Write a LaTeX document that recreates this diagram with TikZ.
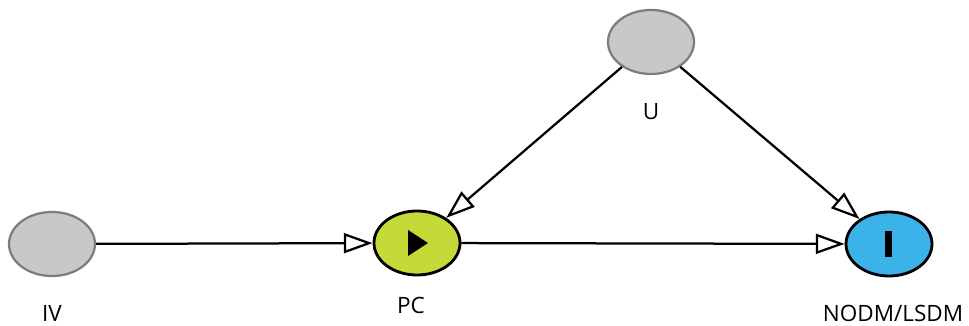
\documentclass[tikz,border=0pt]{standalone}
\usepackage{fontspec}
\setmainfont{Open Sans}
\usetikzlibrary{shapes.geometric,arrows.meta}
\definecolor{vargray}{RGB}{200,200,200}
\definecolor{varedge}{RGB}{125,125,125}
\definecolor{pcgreen}{RGB}{197,217,56}
\definecolor{outblue}{RGB}{59,179,232}
\tikzset{
  var/.style={ellipse,draw=varedge,fill=vargray,line width=1.6pt,minimum width=2.15cm,minimum height=1.6cm,inner sep=0pt},
  main/.style={var,draw=black,line width=2pt},
  lab/.style={font=\fontsize{16}{18}\selectfont,inner sep=0pt},
}
\begin{document}
\begin{tikzpicture}[x=0.025cm,y=-0.025cm, >={Triangle[open,length=0.72cm,width=0.5cm,fill=white]}]
	\useasboundingbox (0,0) rectangle (969,326);
	\node[var] (iv) at (52,244) {};
	\node[var] (u) at (651,42) {};
	\node[main,fill=pcgreen] (pc) at (417,243) {};
	\node[main,fill=outblue] (out) at (889,244) {};
	\node[lab] (ivlab) at (52,313) {IV};
	\node[lab] (ulab) at (651,112) {U};
	\node[lab] (pclab) at (411,305) {PC};
	\node[lab] (outlab) at (893,313) {NODM/LSDM};
	% icons
	\fill (408,230)--(408,256)--(428,243)--cycle;
	\fill (885,231) rectangle (892,257);
	% arrows
	\draw[->,line width=1.6pt] (iv)--(pc);
	\draw[->,line width=1.6pt] (pc)--(out);
	\draw[->,line width=1.6pt] (u)--(pc);
	\draw[->,line width=1.6pt] (u)--(out);
\end{tikzpicture}
\end{document}
